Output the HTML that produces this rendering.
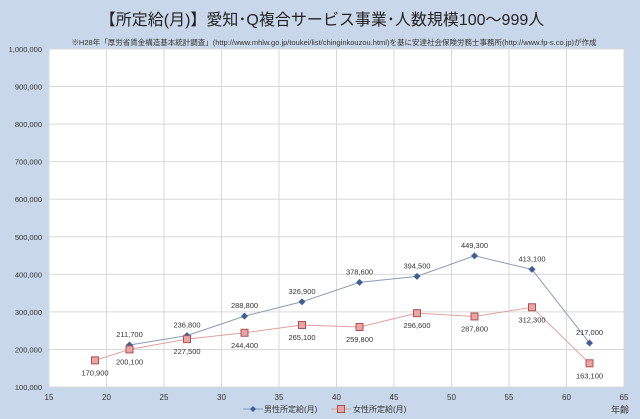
<!DOCTYPE html>
<html><head><meta charset="utf-8"><style>
body{margin:0;width:640px;height:419px;background:#c8d7ea;font-family:"Liberation Sans","Noto Sans CJK JP",sans-serif;overflow:hidden}
svg{display:block}
</style></head><body>
<svg width="640" height="419" font-family="Liberation Sans, Noto Sans CJK JP, sans-serif">
<rect x="0" y="0" width="640" height="419" fill="#c8d7ea"/>
<text x="322" y="25" text-anchor="middle" font-size="16" fill="#222">【所定給(月)】愛知･Q複合サービス事業･人数規模100～999人</text>
<text x="334" y="45" text-anchor="middle" font-size="7.5" fill="#333">※H28年「厚労省賃金構造基本統計調査」(http://www.mhlw.go.jp/toukei/list/chinginkouzou.html)を基に安達社会保険労務士事務所(http://www.fp-s.co.jp)が作成</text>
<rect x="49" y="49" width="575" height="338" fill="#fff"/>
<g id="grid"></g><g id="axes"></g><g id="series"></g>
<g>
<line x1="243" y1="409" x2="263" y2="409" stroke="#8a9bb5"/>
<path d="M253 406 L256 409 L253 412 L250 409Z" fill="#3d5f96"/>
<text x="264" y="412" font-size="8" fill="#333">男性所定給(月)</text>
<line x1="331" y1="409" x2="351" y2="409" stroke="#e0a0a0"/>
<rect x="337.5" y="405.5" width="7" height="7" fill="#e9a5a5" stroke="#b05050"/>
<text x="353" y="412" font-size="8" fill="#333">女性所定給(月)</text>
</g>
<text x="611" y="413" font-size="9" fill="#333">年齢</text>
</svg>
<script>
const xTicks=[15,20,25,30,35,40,45,50,55,60,65];
const yTicks=[100000,200000,300000,400000,500000,600000,700000,800000,900000,1000000];
const maleAges=[22,27,32,37,42,47,52,57,62];
const maleValues=[211700,236800,288800,326900,378600,394500,449300,413100,217000];
const femaleAges=[19,22,27,32,37,42,47,52,57,62];
const femaleValues=[170900,200100,227500,244400,265100,259800,296600,287800,312300,163100];
const NS="http://www.w3.org/2000/svg";
const X=v=>49+(v-15)/50*575;
const Y=v=>387-(v-100000)/900000*338;
function mk(tag,attrs,parent,text){const e=document.createElementNS(NS,tag);for(const k in attrs)e.setAttribute(k,attrs[k]);if(text!==undefined)e.textContent=text;document.getElementById(parent).appendChild(e);return e;}
const fmt=v=>v.toLocaleString('en-US');
xTicks.forEach(t=>{
 const l=mk('line',{x1:X(t),x2:X(t),y1:49,y2:387,stroke:'#d9d9d9'},'grid');
 
 
 const tx=mk('text',{x:X(t),y:400,'text-anchor':'middle','font-size':8,fill:'#333'},'axes',t);
 
 
});
yTicks.forEach(t=>{
 const l=mk('line',{x1:49,x2:624,y1:Y(t),y2:Y(t),stroke:'#d9d9d9'},'grid');
 
 
 const tx=mk('text',{x:42,y:Y(t)+3,'text-anchor':'end','font-size':7.5,fill:'#333'},'axes',fmt(t));
 
 
});
function series(ages,vals,color,name,above){
 const pts=ages.map((a,i)=>X(a)+','+Y(vals[i])).join(' ');
 const pl=mk('polyline',{points:pts,fill:'none',stroke:color,'stroke-width':1},'series');
 
 
 ages.forEach((a,i)=>{
  const x=X(a),y=Y(vals[i]);let m;
  if(name==='male'){m=mk('path',{d:`M${x} ${y-3.5} L${x+3.5} ${y} L${x} ${y+3.5} L${x-3.5} ${y}Z`,fill:'#3d5f96'},'series');}
  else{m=mk('rect',{x:x-3.5,y:y-3.5,width:7,height:7,fill:'#e9a5a5',stroke:'#b05050'},'series');}
  
  
  const t=mk('text',{x:x,y:above?y-8:y+15,'text-anchor':'middle','font-size':7.5,fill:'#333'},'series',fmt(vals[i]));
  
  
 });
}
series(maleAges,maleValues,'#8a9bb5','male',true);
series(femaleAges,femaleValues,'#e0a0a0','female',false);
</script>
</body></html>
